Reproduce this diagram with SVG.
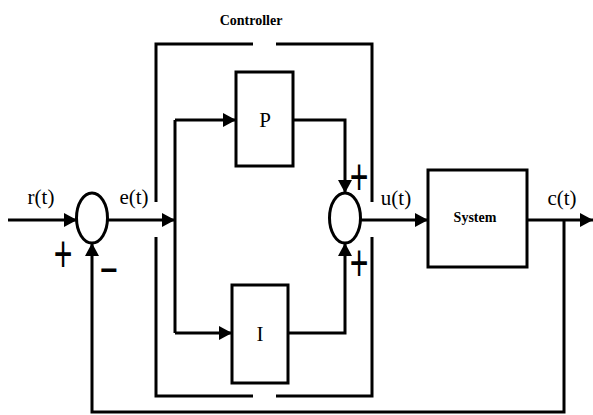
<svg xmlns="http://www.w3.org/2000/svg" width="593" height="415" viewBox="0 0 593 415">
<defs>
<style>
.ln{fill:none;stroke:#000;stroke-width:3;stroke-linejoin:miter}
.bx{fill:#fff;stroke:#000;stroke-width:3}
.sig{font-family:"Liberation Serif",serif;font-size:21px;fill:#000}
.bold{font-family:"Liberation Serif",serif;font-size:14px;font-weight:bold;fill:#000}
.sign{font-family:"Liberation Sans",sans-serif;font-size:32px;fill:#000}
.minus{font-family:"Liberation Sans",sans-serif;font-size:30px;font-weight:bold;fill:#000}
</style>
<marker id="ah" markerUnits="userSpaceOnUse" markerWidth="13" markerHeight="14" refX="13" refY="7" orient="auto">
<path d="M0,0 L13,7 L0,14 Z" fill="#000"/>
</marker>
</defs>
<rect width="593" height="415" fill="#fff"/>
<g id="controller">
<path class="ln" d="M253,44 H156 V202 M156,237 V396 H253 M276,396 H372 V237 M372,202 V44 H276"/>
<text class="bold" x="251" y="25" text-anchor="middle">Controller</text>
</g>
<g id="connectors">
<path class="ln" d="M8,220 H77" marker-end="url(#ah)"/>
<path class="ln" d="M108,220 H175" marker-end="url(#ah)"/>
<path class="ln" d="M175,120 V333"/>
<path class="ln" d="M175,120 H236" marker-end="url(#ah)"/>
<path class="ln" d="M175,333 H232" marker-end="url(#ah)"/>
<path class="ln" d="M293,120 H345 V193" marker-end="url(#ah)"/>
<path class="ln" d="M288,333 H345 V243" marker-end="url(#ah)"/>
<path class="ln" d="M361,220 H428" marker-end="url(#ah)"/>
<path class="ln" d="M527,220 H593" marker-end="url(#ah)"/>
<path class="ln" d="M564,220 V412 H92 V243" marker-end="url(#ah)"/>
</g>
<g id="sum1">
<ellipse class="bx" cx="92" cy="218" rx="15.5" ry="25"/>
<text class="sign" transform="translate(63,272) scale(1,1.6)" text-anchor="middle">+</text>
<text class="minus" x="109" y="280" text-anchor="middle">−</text>
</g>
<g id="sum2">
<ellipse class="bx" cx="345" cy="218" rx="15.5" ry="25"/>
<text class="sign" transform="translate(359,195) scale(1,1.6)" text-anchor="middle">+</text>
<text class="sign" transform="translate(359,281) scale(1,1.6)" text-anchor="middle">+</text>
</g>
<g id="P">
<rect class="bx" x="236" y="72" width="57" height="94"/>
<text class="sig" x="265" y="127" text-anchor="middle">P</text>
</g>
<g id="I">
<rect class="bx" x="232" y="285" width="56" height="98"/>
<text class="sig" x="260" y="341" text-anchor="middle">I</text>
</g>
<g id="system">
<rect class="bx" x="428" y="170" width="99" height="97"/>
<text class="bold" x="475" y="222" text-anchor="middle">System</text>
</g>
<g id="labels">
<text class="sig" x="41" y="204" text-anchor="middle">r(t)</text>
<text class="sig" x="134" y="204" text-anchor="middle">e(t)</text>
<text class="sig" x="396" y="205" text-anchor="middle">u(t)</text>
<text class="sig" x="562" y="205" text-anchor="middle">c(t)</text>
</g>
</svg>
